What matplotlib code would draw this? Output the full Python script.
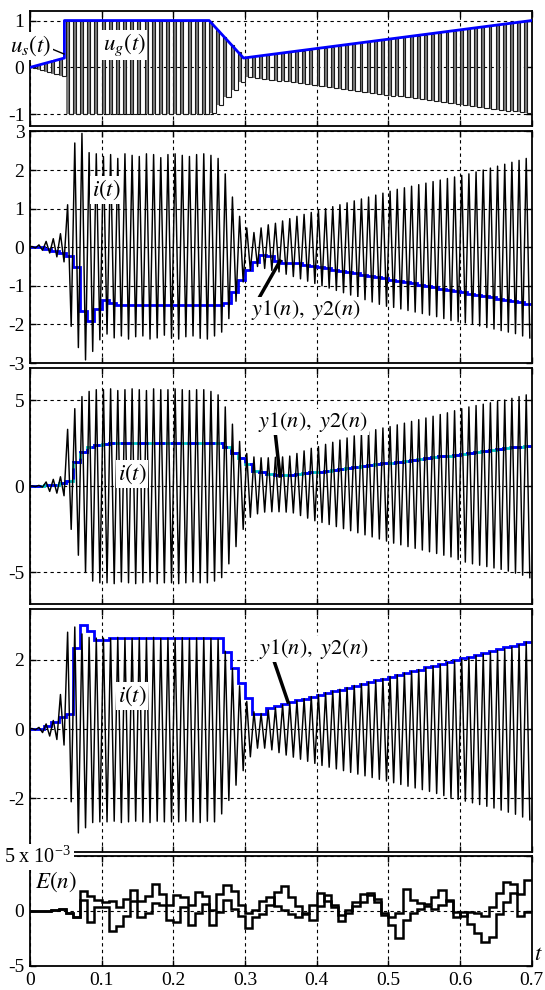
import numpy as np
import matplotlib
matplotlib.use("Agg")
import matplotlib.pyplot as plt
from matplotlib.lines import Line2D

plt.rcParams['font.family'] = ['Liberation Serif', 'DejaVu Serif']
plt.rcParams['mathtext.fontset'] = 'stix'
plt.rcParams['axes.unicode_minus'] = False

T_END = 0.7
PERIOD = 0.01        # carrier period and estimator step
POS_FRAC = 0.4       # share of each period where u_s(t) is positive

# ---- panel 1: generator voltage u_g(t) and switched voltage u_s(t) ----
ug_t = [0.0, 0.048, 0.048, 0.25, 0.298, 0.7]
ug_v = [0.0, 0.2, 1.0, 1.0, 0.2, 1.0]
us_amp = [0.02, 0.06, 0.10, 0.14, 0.18,
          1.0, 1.0, 1.0, 1.0, 1.0, 1.0, 1.0, 1.0, 1.0, 1.0,
          1.0, 1.0, 1.0, 1.0, 1.0, 1.0, 1.0, 1.0, 1.0, 1.0,
          0.97, 0.80, 0.64, 0.48, 0.32,
          0.20, 0.22, 0.24, 0.26, 0.28, 0.30, 0.32, 0.34, 0.36, 0.38,
          0.40, 0.42, 0.44, 0.46, 0.48, 0.50, 0.52, 0.54, 0.56, 0.58,
          0.60, 0.62, 0.64, 0.66, 0.68, 0.70, 0.72, 0.74, 0.76, 0.78,
          0.80, 0.82, 0.84, 0.86, 0.88, 0.90, 0.92, 0.94, 0.96, 0.98]

# ---- panel 2: current i(t) per-cycle peaks and estimate y(n) ----
i2_hi = [0.02, 0.06, 0.15, 0.22, 0.35, 1.10, 2.70, 2.95, 2.45, 2.42,
         2.35, 2.40, 2.30, 2.42, 2.38, 2.35, 2.42, 2.40, 2.32, 2.40,
         2.42, 2.38, 2.35, 2.40, 2.42, 2.38, 2.30, 1.90, 1.30, 0.80,
         0.50, 0.38, 0.50, 0.58, 0.62, 0.68, 0.74, 0.80, 0.85, 0.90,
         0.95, 1.00, 1.05, 1.10, 1.15, 1.20, 1.25, 1.30, 1.35, 1.40,
         1.45, 1.50, 1.54, 1.58, 1.62, 1.66, 1.70, 1.74, 1.78, 1.82,
         1.86, 1.90, 1.95, 2.00, 2.05, 2.10, 2.15, 2.20, 2.25, 2.30]
i2_lo = [-0.02, -0.08, -0.15, -0.25, -0.38, -2.05, -2.60, -2.92, -2.70, -2.40,
         -2.25, -2.35, -2.30, -2.38, -2.32, -2.30, -2.38, -2.35, -2.28, -2.36,
         -2.38, -2.32, -2.30, -2.36, -2.38, -2.30, -2.20, -1.85, -1.40, -0.90,
         -0.60, -0.50, -0.55, -0.60, -0.64, -0.70, -0.76, -0.82, -0.88, -0.94,
         -1.00, -1.06, -1.12, -1.18, -1.24, -1.30, -1.36, -1.42, -1.48, -1.53,
         -1.56, -1.60, -1.64, -1.68, -1.72, -1.76, -1.80, -1.85, -1.90, -1.93,
         -1.96, -2.00, -2.04, -2.08, -2.12, -2.16, -2.20, -2.24, -2.30, -2.35]
y2 = [0.0, 0.0, -0.05, -0.10, -0.15, -0.22, -0.50, -1.65, -1.92, -1.60,
      -1.38, -1.45, -1.50, -1.50, -1.50, -1.50, -1.50, -1.50, -1.50, -1.50,
      -1.50, -1.50, -1.50, -1.50, -1.50, -1.50, -1.50, -1.45, -1.17, -0.85,
      -0.60, -0.38, -0.20, -0.23, -0.35, -0.42, -0.42, -0.42, -0.45, -0.48,
      -0.52, -0.55, -0.58, -0.62, -0.65, -0.68, -0.71, -0.75, -0.78, -0.81,
      -0.84, -0.88, -0.91, -0.94, -0.97, -1.01, -1.04, -1.07, -1.10, -1.14,
      -1.17, -1.20, -1.23, -1.27, -1.30, -1.33, -1.36, -1.40, -1.43, -1.46]

# ---- panel 3 ----
i3_hi = [0.02, 0.05, 0.25, 0.40, 0.55, 3.30, 4.50, 5.20, 5.50, 5.60,
         5.60, 5.65, 5.55, 5.60, 5.65, 5.60, 5.55, 5.65, 5.60, 5.60,
         5.65, 5.60, 5.55, 5.60, 5.60, 5.50, 5.30, 4.60, 3.60, 2.60,
         1.90, 1.70, 1.65, 1.65, 1.68, 1.70, 1.75, 1.90, 2.05, 2.20,
         2.30, 2.43, 2.55, 2.68, 2.80, 2.92, 3.04, 3.16, 3.28, 3.38,
         3.46, 3.56, 3.66, 3.76, 3.86, 3.96, 4.06, 4.16, 4.26, 4.38,
         4.50, 4.60, 4.68, 4.76, 4.84, 4.92, 5.00, 5.10, 5.20, 5.30]
i3_lo = [-0.02, -0.05, -0.30, -0.40, -0.55, -2.50, -4.00, -5.00, -5.50, -5.60,
         -5.60, -5.65, -5.55, -5.60, -5.65, -5.60, -5.55, -5.65, -5.60, -5.60,
         -5.65, -5.60, -5.55, -5.60, -5.60, -5.50, -5.30, -4.50, -3.50, -2.50,
         -1.80, -1.60, -1.50, -1.48, -1.48, -1.50, -1.55, -1.70, -1.85, -2.00,
         -2.10, -2.22, -2.34, -2.46, -2.58, -2.70, -2.82, -2.94, -3.06, -3.18,
         -3.30, -3.40, -3.50, -3.60, -3.70, -3.80, -3.90, -4.00, -4.10, -4.25,
         -4.40, -4.50, -4.58, -4.66, -4.74, -4.82, -4.92, -5.04, -5.16, -5.30]
y3 = [0.0, 0.0, 0.05, 0.10, 0.20, 0.32, 1.40, 1.96, 2.30, 2.40,
      2.45, 2.50, 2.50, 2.50, 2.50, 2.50, 2.50, 2.50, 2.50, 2.50,
      2.50, 2.50, 2.50, 2.50, 2.50, 2.50, 2.50, 2.27, 1.92, 1.63,
      1.30, 0.87, 0.85, 0.70, 0.67, 0.67, 0.67, 0.70, 0.75, 0.80,
      0.85, 0.91, 0.96, 1.01, 1.06, 1.11, 1.16, 1.22, 1.27, 1.32,
      1.37, 1.42, 1.47, 1.53, 1.58, 1.63, 1.68, 1.73, 1.78, 1.84,
      1.89, 1.94, 1.99, 2.04, 2.09, 2.15, 2.20, 2.25, 2.30, 2.35]

# ---- panel 4 ----
i4_hi = [0.02, 0.05, 0.15, 0.25, 1.00, 2.80, 2.95, 2.75, 2.65, 2.63,
         2.63, 2.62, 2.65, 2.63, 2.62, 2.64, 2.63, 2.65, 2.62, 2.63,
         2.63, 2.64, 2.62, 2.63, 2.64, 2.62, 2.60, 2.25, 1.75, 1.25,
         0.80, 0.50, 0.45, 0.55, 0.62, 0.70, 0.76, 0.82, 0.88, 0.94,
         1.00, 1.05, 1.10, 1.15, 1.20, 1.26, 1.31, 1.36, 1.41, 1.46,
         1.52, 1.57, 1.62, 1.67, 1.72, 1.77, 1.82, 1.87, 1.92, 1.97,
         2.02, 2.07, 2.12, 2.17, 2.22, 2.27, 2.32, 2.37, 2.44, 2.52]
i4_lo = [-0.02, -0.10, -0.20, -0.30, -0.46, -2.10, -3.00, -2.85, -2.70, -2.68,
         -2.68, -2.66, -2.70, -2.68, -2.66, -2.68, -2.70, -2.66, -2.68, -2.68,
         -2.68, -2.66, -2.68, -2.70, -2.66, -2.68, -2.45, -2.06, -1.62, -1.20,
         -0.80, -0.55, -0.55, -0.60, -0.68, -0.75, -0.81, -0.87, -0.93, -0.99,
         -1.05, -1.10, -1.15, -1.20, -1.25, -1.30, -1.35, -1.40, -1.45, -1.50,
         -1.55, -1.60, -1.65, -1.70, -1.75, -1.80, -1.86, -1.92, -1.98, -2.03,
         -2.08, -2.13, -2.18, -2.23, -2.28, -2.34, -2.40, -2.46, -2.54, -2.62]
y4 = [0.0, 0.0, 0.10, 0.20, 0.35, 0.43, 2.34, 3.00, 2.82, 2.58,
      2.58, 2.63, 2.63, 2.63, 2.63, 2.63, 2.63, 2.63, 2.63, 2.63,
      2.63, 2.63, 2.63, 2.63, 2.63, 2.63, 2.63, 2.24, 1.76, 1.34,
      0.89, 0.45, 0.45, 0.60, 0.68, 0.72, 0.77, 0.83, 0.88, 0.93,
      0.99, 1.04, 1.09, 1.14, 1.20, 1.25, 1.30, 1.35, 1.41, 1.46,
      1.51, 1.57, 1.62, 1.67, 1.72, 1.78, 1.83, 1.88, 1.93, 1.99,
      2.04, 2.09, 2.15, 2.20, 2.25, 2.30, 2.36, 2.41, 2.46, 2.52]

# ---- panel 5: estimation errors E(n), in units of 1e-3 ----
e1 = [0.0, 0.0, 0.0, 0.1, 0.2, -0.2, -0.6, 1.8, 1.3, 1.0,
      0.8, 0.9, 0.3, 1.1, 1.9, 0.9, 1.3, 2.4, 1.5, 0.5,
      1.4, 1.2, 0.5, 1.7, 1.3, 0.1, 1.5, 2.3, 1.8, 0.5,
      -0.2, 0.1, 0.9, 1.2, 0.4, 0.1, -0.3, -0.6, -0.2, 0.5,
      1.6, 0.9, 0.3, -0.4, -0.2, 0.8, 1.5, 1.4, 0.8, -0.2,
      -0.6, -0.2, 2.0, 1.0, 0.7, 0.6, 1.2, 1.9, 0.9, -0.1,
      -0.5, -0.1, -0.2, -0.5, 0.3, 1.6, 2.6, 2.4, 1.5, 2.8]
e2 = [0.0, 0.0, 0.0, 0.1, 0.2, -0.2, -0.6, 1.0, -1.0, 0.3,
      0.3, -1.8, -1.4, -0.5, 0.9, -0.6, -0.2, 0.7, 0.5, -0.8,
      -1.0, 0.3, -1.3, -0.2, 0.6, -1.3, -0.1, 1.0, 0.2, -0.5,
      -1.6, -0.6, -0.3, 0.5, 1.7, 2.2, 1.2, 0.4, -0.3, -0.8,
      0.4, 1.4, 0.5, -0.9, 0.1, 0.4, 0.8, 1.6, 1.1, -0.4,
      -1.3, -2.5, -0.8, -0.2, 0.2, 0.4, 0.2, 0.5, 1.0, -0.6,
      -0.1, -1.2, -2.0, -2.8, -2.4, -0.3, 0.8, 1.6, -0.5, -0.1]

x_ticks = [0, 0.1, 0.2, 0.3, 0.4, 0.5, 0.6, 0.7]
x_ticklabels = ['0', '0.1', '0.2', '0.3', '0.4', '0.5', '0.6', '0.7']

W, H = 545, 990
fig = plt.figure(figsize=(W / 100, H / 100), dpi=100)


def add_panel(top, bottom, left=30, right=531.6):
    return fig.add_axes([left / W, 1 - bottom / H, (right - left) / W, (bottom - top) / H])


def style(ax, ylim, yticks, yticklabels, xlabels=False):
    ax.set_xlim(0, T_END)
    ax.set_ylim(*ylim)
    ax.set_xticks(x_ticks)
    ax.set_yticks(yticks)
    ax.set_yticklabels(yticklabels)
    ax.set_xticklabels(x_ticklabels if xlabels else [])
    ax.set_axisbelow(True)
    ax.grid(True, color='black', linestyle=(0, (3, 3)), linewidth=0.8)
    ax.tick_params(direction='in', length=4, width=1, top=True, right=True,
                   labelsize=14, pad=4, colors='black')
    for s in ax.spines.values():
        s.set_linewidth(1.3)


def zigzag(hi, lo):
    k = np.arange(len(hi))
    t = np.column_stack([k * PERIOD + 0.25 * PERIOD, k * PERIOD + 0.75 * PERIOD]).ravel()
    v = np.column_stack([hi, lo]).ravel()
    return np.r_[0.0, t], np.r_[0.0, v]


step_edges = np.arange(len(y2) + 1) * PERIOD

# panel 1: square wave with its narrow positive pulses shaded
ax1 = add_panel(10.7, 126)
amp = np.asarray(us_amp)
k = np.arange(len(amp))
ax1.bar(k * PERIOD, 2 * amp, bottom=-amp, width=POS_FRAC * PERIOD, align='edge',
        color='#7a7a7a', linewidth=0, zorder=2)
sq_edges = np.append(np.column_stack([k * PERIOD, k * PERIOD + POS_FRAC * PERIOD]).ravel(), T_END)
sq_vals = np.column_stack([amp, -amp]).ravel()
ax1.stairs(sq_vals, sq_edges, baseline=None, color='#1a1a1a', linewidth=0.8, zorder=3)
ax1.plot(ug_t, ug_v, color='#0000ff', linewidth=2, zorder=4)
style(ax1, (-1.25, 1.21), [-1, 0, 1], ['-1', '0', '1'])

# panel 2
ax2 = add_panel(131.4, 363)
tz, vz = zigzag(i2_hi, i2_lo)
ax2.plot(tz, vz, color='black', linewidth=1.05)
ax2.stairs(y2, step_edges, baseline=None, color='#0000ff', linewidth=2)
style(ax2, (-3, 3), [-3, -2, -1, 0, 1, 2, 3], ['-3', '-2', '-1', '0', '1', '2', '3'])

# panel 3
ax3 = add_panel(368.3, 603.5)
tz, vz = zigzag(i3_hi, i3_lo)
ax3.plot(tz, vz, color='black', linewidth=1.05)
ax3.stairs(y3, step_edges, baseline=None, color='#00c8c8', linewidth=2)
ax3.stairs(y3, step_edges, baseline=None, color='#0000ff', linewidth=2,
           linestyle=(0, (4, 2)))
style(ax3, (-6.8, 6.84), [-5, 0, 5], ['-5', '0', '5'])

# panel 4
ax4 = add_panel(609, 852)
tz, vz = zigzag(i4_hi, i4_lo)
ax4.plot(tz, vz, color='black', linewidth=1.05)
ax4.stairs(y4, step_edges, baseline=None, color='#0000ff', linewidth=2)
style(ax4, (-3.55, 3.47), [-2, 0, 2], ['-2', '0', '2'])

# panel 5
ax5 = add_panel(855.5, 966)
e_edges = np.arange(len(e1) + 1) * PERIOD
ax5.stairs(np.asarray(e1) * 1e-3, e_edges, baseline=None, color='black', linewidth=1.8)
ax5.stairs(np.asarray(e2) * 1e-3, e_edges, baseline=None, color='black', linewidth=1.8)
style(ax5, (-5e-3, 5e-3), [-5e-3, 0, 5e-3], ['-5', '0', ''], xlabels=True)


def fx(x):
    return x / W


def fy(y):
    return 1 - y / H


white = dict(facecolor='white', edgecolor='none', pad=1.0)
lab = dict(fontsize=16.5, ha='center', va='center', zorder=10)
ylab = dict(fontsize=16, ha='center', va='center', zorder=10)

fig.text(fx(31), fy(46), r'$u_s(t)$', bbox=white, **lab)
fig.add_artist(Line2D([fx(52), fx(64)], [fy(49), fy(54)], color='black', linewidth=1.0))
fig.text(fx(124), fy(45), r'$u_g(t)$', bbox=white, **lab)

fig.text(fx(106), fy(190), r'$i(t)$', bbox=white, **lab)
fig.text(fx(306), fy(310), r'$y1(n),\ y2(n)$', bbox=white, **ylab)
fig.add_artist(Line2D([fx(259), fx(280)], [fy(298), fy(261)], color='black', linewidth=2.5))

fig.text(fx(132), fy(474), r'$i(t)$', bbox=white, **lab)
fig.text(fx(313), fy(422), r'$y1(n),\ y2(n)$', bbox=white, **ylab)
fig.add_artist(Line2D([fx(275), fx(280)], [fy(431), fy(476)], color='black', linewidth=2.5))

fig.text(fx(132), fy(696), r'$i(t)$', bbox=white, **lab)
fig.text(fx(314), fy(649), r'$y1(n),\ y2(n)$', bbox=white, **ylab)
fig.add_artist(Line2D([fx(273), fx(288)], [fy(658), fy(702)], color='black', linewidth=2.5))

fig.text(fx(56), fy(882), r'$E(n)$', **lab)
fig.text(fx(538), fy(955), r'$t$', **lab)
fig.text(fx(4), fy(857), r'$\mathregular{5\ x\ 10^{-3}}$', fontsize=14.5, ha='left',
         va='center', zorder=10,
         bbox=dict(facecolor='white', edgecolor='none', pad=2.0))

fig.savefig('out.png', dpi=100)
